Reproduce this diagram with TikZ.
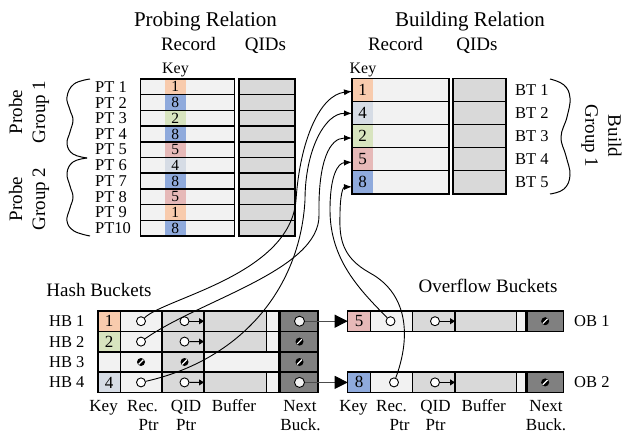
\documentclass[tikz,border=0pt]{standalone}
\usepackage{fontspec}
\setmainfont{Liberation Serif}
\usetikzlibrary{arrows.meta}
\definecolor{recfill}{HTML}{F2F2F2}
\definecolor{qidfill}{HTML}{D9D9D9}
\definecolor{nextfill}{HTML}{808080}
\definecolor{korange}{HTML}{F8CBAD}
\definecolor{kblue}{HTML}{8FAADC}
\definecolor{kgreen}{HTML}{D8E4BF}
\definecolor{klblue}{HTML}{D6DCE5}
\definecolor{kpink}{HTML}{E6B9B8}
\tikzset{
  cell/.style 2 args={inner sep=0pt, outer sep=0pt, minimum width=#1, minimum height=#2},
  rowline/.style={draw=black, line width=1.5pt},
  thinline/.style={draw=black, line width=0.8pt},
  titletext/.style={font=\fontsize{21}{24}\selectfont, inner sep=0pt, anchor=base},
  headtext/.style={font=\fontsize{19}{22}\selectfont, inner sep=0pt, anchor=base},
  rowlab/.style={font=\fontsize{16.5}{18}\selectfont, inner sep=0pt, anchor=west},
  keytext/.style={font=\fontsize{16}{18}\selectfont, inner sep=0pt, anchor=base},
  sublab/.style={font=\fontsize{17}{19}\selectfont, inner sep=0pt, anchor=base},
  grouptext/.style={font=\fontsize{19}{23}\selectfont, inner sep=0pt, align=center},
  pdigit/.style={font=\fontsize{15.5}{17}\selectfont},
  bdigit/.style={font=\fontsize{17}{19}\selectfont},
  ptr/.style={circle, draw=black, fill=white, line width=0.9pt, minimum size=9pt, inner sep=0pt},
  nextptr/.style={circle, draw=black, fill=recfill, line width=0.9pt, minimum size=10pt, inner sep=0pt},
  nullsym/.style={circle, fill=black, minimum size=8pt, inner sep=0pt,
    path picture={\draw[white, line width=1.2pt] ([shift={(-2.4pt,-2.4pt)}]path picture bounding box.center) -- ([shift={(2.4pt,2.4pt)}]path picture bounding box.center);}},
  qarrow/.style={line width=0.9pt, -{Triangle[length=5pt,width=6pt]}},
  nextarrow/.style={draw=black!70, line width=0.9pt, -{Triangle[length=13pt,width=13pt,color=black]}},
  linkarrow/.style={line width=0.9pt, -{Latex[length=8pt,width=6pt]}},
  bracepath/.style={line width=1pt},
}
\begin{document}
\begin{tikzpicture}[x=1pt,y=-1pt]
\useasboundingbox (0,0) rectangle (623,436);

% ---------- titles ----------
\node[titletext] (ptitle) at (205.5,27) {Probing Relation};
\node[titletext] (btitle) at (470,27) {Building Relation};
\node[headtext] (prechead) at (188.5,50.7) {Record};
\node[headtext] (pqidhead) at (265.5,50.7) {QIDs};
\node[headtext] (brechead) at (395.5,50.7) {Record};
\node[headtext] (bqidhead) at (477,50.7) {QIDs};
\node[keytext] (pkeyhead) at (175.5,74) {Key};
\node[keytext] (bkeyhead) at (363,74) {Key};

% ---------- probing relation ----------
\foreach \i/\k/\kc/\t in {1/1/korange/PT 1,2/8/kblue/PT 2,3/2/kgreen/PT 3,4/8/kblue/PT 4,5/5/kpink/PT 5,6/4/klblue/PT 6,7/8/kblue/PT 7,8/5/kpink/PT 8,9/1/korange/PT 9,10/8/kblue/PT10} {
  \pgfmathsetmacro{\yy}{79+15.7*(\i-0.5)}
  \node[cell={94pt}{15.7pt}, fill=recfill] (prec\i) at (187.5,\yy) {};
  \node[cell={20.5pt}{15.7pt}, fill=\kc, pdigit] (pkey\i) at (175.25,\yy) {\k};
  \draw[rowline] (prec\i.north west) rectangle (prec\i.south east);
  \node[cell={56pt}{15.7pt}, fill=qidfill, rowline] (pqid\i) at (267,\yy) {};
  \node[rowlab] (plab\i) at (95,\yy) {\t};
}

% ---------- building relation ----------
\foreach \i/\k/\kc in {1/1/korange,2/4/klblue,3/2/kgreen,4/5/kpink,5/8/kblue} {
  \pgfmathsetmacro{\yy}{78.3+23.1*(\i-0.5)}
  \node[cell={97pt}{23.1pt}, fill=recfill] (brec\i) at (400.5,\yy) {};
  \node[cell={21pt}{23.1pt}, fill=\kc, bdigit] (bkey\i) at (362.5,\yy) {\k};
  \draw[rowline] (brec\i.north west) rectangle (brec\i.south east);
  \node[cell={53pt}{23.1pt}, fill=qidfill, rowline] (bqid\i) at (479.5,\yy) {};
  \node[rowlab] (blab\i) at (515,\yy) {BT \i};
}

% ---------- braces and group labels ----------
\draw[bracepath] plot[smooth, tension=0.7] coordinates {(90,79) (74,84) (67,97) (70,110) (73,120) (70,132) (67,144) (73,154) (87,158)};
\draw[bracepath] plot[smooth, tension=0.7] coordinates {(87,158) (73,162) (67,173) (70,186) (73,197) (70,208) (67,221) (74,231) (90,236)};
\draw[bracepath] plot[smooth, tension=0.7] coordinates {(550,79) (564,85) (570,98) (567,117) (561,137) (566,156) (570,175) (564,189) (550,194)};
\node[grouptext, rotate=90] (pg1) at (29,112) {Probe\\Group 1};
\node[grouptext, rotate=90] (pg2) at (29,199) {Probe\\Group 2};
\node[grouptext, rotate=-90] (bg1) at (601.5,136) {Build\\Group 1};

% ---------- hash buckets ----------
\node[headtext] (hbtitle) at (99,296.7) {Hash Buckets};
\foreach \i/\k/\kc in {1/1/korange,2/2/kgreen,3//recfill,4/4/klblue} {
  \pgfmathsetmacro{\yy}{311+20.4*(\i-0.5)}
  \node[cell={22pt}{20.4pt}, fill=\kc, bdigit] (hkey\i) at (109,\yy) {\k};
  \node[cell={42pt}{20.4pt}, fill=recfill] (hrec\i) at (141,\yy) {};
  \node[cell={42pt}{20.4pt}, fill=qidfill] (hqc\i) at (183,\yy) {};
  \ifnum\i=3
    \node[cell={75pt}{20.4pt}, fill=recfill] (hbuf\i) at (241.5,\yy) {};
    \node[cell={0pt}{20.4pt}] (hgap\i) at (279,\yy) {};
  \else
    \node[cell={62pt}{20.4pt}, fill=qidfill] (hbuf\i) at (235,\yy) {};
    \node[cell={13pt}{20.4pt}, fill=recfill] (hgap\i) at (272.5,\yy) {};
    \draw[thinline] (hbuf\i.north east) -- (hbuf\i.south east);
  \fi
  \draw[thinline] (hkey\i.north east) -- (hkey\i.south east);
  \draw[rowline] (hrec\i.north east) -- (hrec\i.south east);
  \draw[rowline] (hqc\i.north east) -- (hqc\i.south east);
  \draw[rowline] (hkey\i.north west) rectangle (hgap\i.south east);
  \node[cell={38pt}{20.4pt}, fill=nextfill, rowline] (hnext\i) at (299,\yy) {};
  \node[rowlab] (hlab\i) at (49,\yy) {HB \i};
}
% pointers in hash buckets
\node[ptr] (hr1) at (141,321.2) {};
\node[ptr] (hq1) at (184.5,321.2) {};
\draw[qarrow] (hq1) -- (hqc1.east);
\node[nextptr] (hn1) at (299.5,321.2) {};
\node[ptr] (hr2) at (141,341.6) {};
\node[ptr] (hq2) at (184.5,341.6) {};
\draw[qarrow] (hq2) -- (hqc2.east);
\node[nullsym] (hnnull2) at (299.5,341.6) {};
\node[nullsym] (hrnull3) at (141,362) {};
\node[nullsym] (hqnull3) at (184.5,362) {};
\node[nullsym] (hnnull3) at (299.5,362) {};
\node[ptr] (hr4) at (141,382.4) {};
\node[ptr] (hq4) at (184.5,382.4) {};
\draw[qarrow] (hq4) -- (hqc4.east);
\node[nextptr] (hn4) at (299.5,382.4) {};

% bottom labels (hash)
\node[sublab] (hlk) at (103.6,411.7) {Key};
\node[sublab] (hlr) at (142.5,411.7) {Rec.};
\node[sublab] (hlr2) at (148.5,430) {Ptr};
\node[sublab] (hlq) at (186,411.7) {QID};
\node[sublab] (hlq2) at (186,430) {Ptr};
\node[sublab] (hlb) at (234,411.7) {Buffer};
\node[sublab] (hln) at (300,411.7) {Next};
\node[sublab] (hln2) at (300.5,430) {Buck.};

% ---------- overflow buckets ----------
\node[headtext] (obtitle) at (488,292.3) {Overflow Buckets};
\foreach \j/\k/\kc/\yy/\rx in {1/5/kpink/321.2/390.5,2/8/kblue/382.4/394} {
  \node[cell={23pt}{20.4pt}, fill=\kc, bdigit] (okey\j) at (359.2,\yy) {\k};
  \node[cell={42pt}{20.4pt}, fill=recfill] (orec\j) at (391.7,\yy) {};
  \node[cell={42.3pt}{20.4pt}, fill=qidfill] (oqc\j) at (433.85,\yy) {};
  \node[cell={61pt}{20.4pt}, fill=qidfill] (obuf\j) at (485.5,\yy) {};
  \node[cell={9.3pt}{20.4pt}, fill=recfill] (ogap\j) at (520.65,\yy) {};
  \draw[thinline] (okey\j.north east) -- (okey\j.south east);
  \draw[thinline] (obuf\j.north east) -- (obuf\j.south east);
  \draw[rowline] (orec\j.north east) -- (orec\j.south east);
  \draw[rowline] (oqc\j.north east) -- (oqc\j.south east);
  \draw[rowline] (okey\j.north west) rectangle (ogap\j.south east);
  \node[cell={36.3pt}{20.4pt}, fill=nextfill, rowline] (onext\j) at (545.15,\yy) {};
  \node[nullsym] (onull\j) at (545.15,\yy) {};
  \node[ptr] (orr\j) at (\rx,\yy) {};
  \node[ptr] (oq\j) at (435,\yy) {};
  \draw[qarrow] (oq\j) -- (oqc\j.east);
  \node[rowlab] (olab\j) at (574,\yy) {OB \j};
}
% bottom labels (overflow)
\node[sublab] (olk) at (353.5,411.7) {Key};
\node[sublab] (olr) at (391.5,411.7) {Rec.};
\node[sublab] (olr2) at (399.5,430) {Ptr};
\node[sublab] (olq) at (435.5,411.7) {QID};
\node[sublab] (olq2) at (435.5,430) {Ptr};
\node[sublab] (olb) at (483.7,411.7) {Buffer};
\node[sublab] (oln) at (546,411.7) {Next};
\node[sublab] (oln2) at (546,430) {Buck.};

% ---------- next bucket arrows ----------
\draw[nextarrow] (hn1) -- (okey1.west);
\draw[nextarrow] (hn4) -- (okey2.west);

% ---------- record pointer links ----------
\draw[linkarrow] (hr1) .. controls (165,298) and (290,275) .. (296,200) .. controls (300,140) and (320,95) .. ([yshift=-1.5pt]bkey1.west);
\draw[linkarrow] (hr4) .. controls (240,360) and (300,290) .. (305,200) .. controls (305,150) and (325,113) .. ([yshift=-0.5pt]bkey2.west);
\draw[linkarrow] (hr2) .. controls (200,300) and (320,270) .. (319,215) .. controls (318,160) and (330,138) .. ([yshift=-2pt]bkey3.west);
\draw[linkarrow] (orr1) .. controls (360,290) and (330,260) .. (330,210) .. controls (330,175) and (338,163) .. ([yshift=-3pt]bkey4.west);
\draw[linkarrow] (orr2) .. controls (410,340) and (410,295) .. (370,273) .. controls (343,258) and (339,240) .. (340,215) .. controls (340,195) and (343,187) .. ([yshift=-4.5pt]bkey5.west);
\end{tikzpicture}
\end{document}
